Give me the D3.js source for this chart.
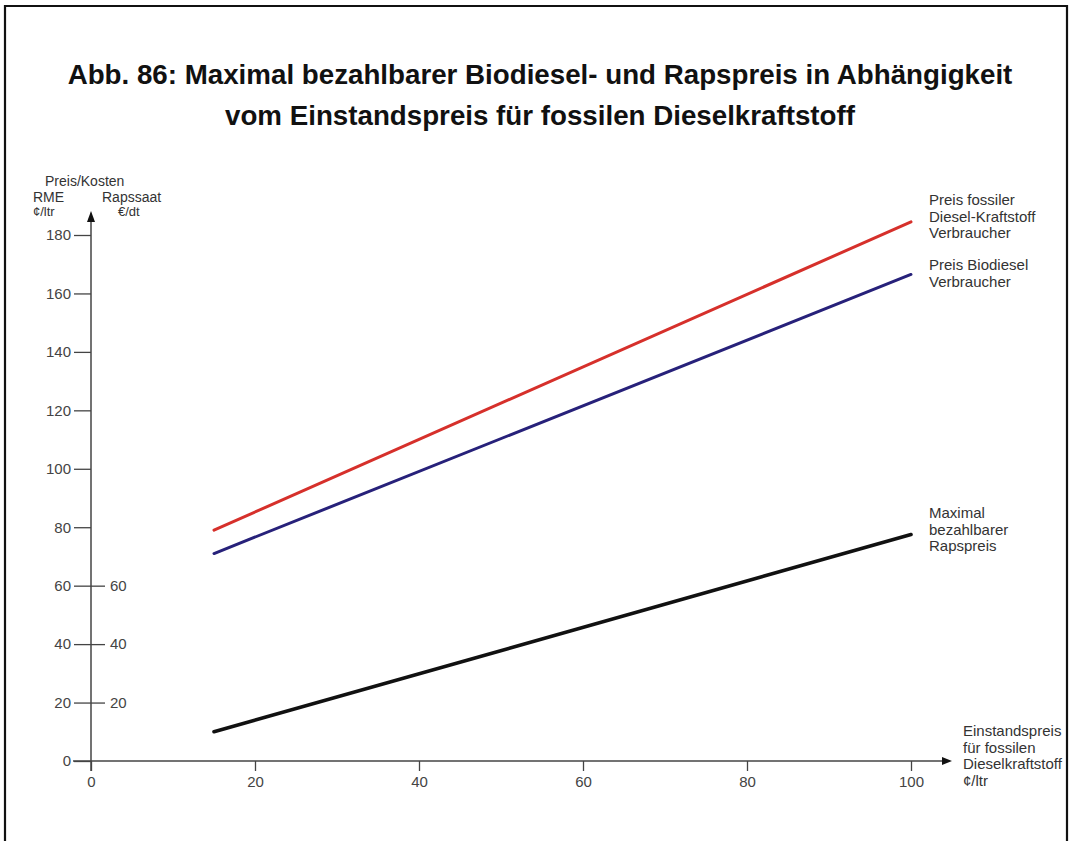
<!DOCTYPE html>
<html><head><meta charset="utf-8">
<script src="https://cdn.jsdelivr.net/npm/d3@7"></script>
<style>
html,body{margin:0;padding:0;background:#fff;}
svg{display:block;font-family:"Liberation Sans",Arial,sans-serif;}
</style></head>
<body>
<svg id="chart" width="1070" height="841"></svg>
<script>
// ---- data ----
const titleLines = ["Abb. 86: Maximal bezahlbarer Biodiesel- und Rapspreis in Abhängigkeit",
                    "vom Einstandspreis für fossilen Dieselkraftstoff"];
const xTicks = [0, 20, 40, 60, 80, 100];
const yTicks = [0, 20, 40, 60, 80, 100, 120, 140, 160, 180];
const rapsTicks = [20, 40, 60];
const dieselPrice = [15, 100];              // Einstandspreis fossiler Diesel (¢/ltr)
const fossilConsumer = [79, 184.5];          // Preis fossiler Diesel-Kraftstoff Verbraucher
const biodieselConsumer = [71, 166.5];       // Preis Biodiesel Verbraucher
const maxRapsPrice = [10, 77.5];             // Maximal bezahlbarer Rapspreis
const seriesLabels = [
  ["Preis fossiler", "Diesel-Kraftstoff", "Verbraucher"],
  ["Preis Biodiesel", "Verbraucher"],
  ["Maximal", "bezahlbarer", "Rapspreis"]
];
const seriesColors = ["#d6302b", "#27217a", "#111111"];
const xAxisLabel = ["Einstandspreis", "für fossilen", "Dieselkraftstoff", "¢/ltr"];

// ---- chart ----
const svg = d3.select("#chart");
const x = d3.scaleLinear().domain([0, 100]).range([91, 911]);
const y = d3.scaleLinear().domain([0, 180]).range([761, 235]);
const grey = "#444";

// frame (no bottom border)
svg.append("path").attr("d", "M5,841 L5,6 L1067,6 L1067,841")
  .attr("fill", "none").attr("stroke", "#111").attr("stroke-width", 2.2);

// title
const tg = svg.append("g");
const t1 = tg.append("text").attr("x", 540).attr("y", 84).attr("text-anchor", "middle")
  .attr("font-weight", "bold").attr("font-size", 24).attr("fill", "#111").text(titleLines[0]);
const w = t1.node().getComputedTextLength();
const fs = 24 * 945 / w;
t1.attr("font-size", fs);
tg.append("text").attr("x", 540).attr("y", 125).attr("text-anchor", "middle")
  .attr("font-weight", "bold").attr("font-size", fs).attr("fill", "#111").text(titleLines[1]);

// x axis
const xAxis = d3.axisBottom(x).tickValues(xTicks).tickSize(10).tickPadding(5);
const gx = svg.append("g").attr("transform", `translate(0,${y(0)})`).call(xAxis);
gx.select(".domain").remove();
gx.selectAll(".tick line").attr("stroke", grey).attr("stroke-width", 1.3);
gx.selectAll(".tick text").attr("font-size", 15).attr("fill", grey)
  .attr("font-family", "Liberation Sans, Arial, sans-serif");
svg.append("line").attr("x1", 73).attr("x2", 944).attr("y1", y(0)).attr("y2", y(0))
  .attr("stroke", grey).attr("stroke-width", 1.5);
svg.append("path").attr("d", `M952,${y(0)} L942,${y(0)-4} L942,${y(0)+4} Z`).attr("fill", "#111");

// y axis
const yAxis = d3.axisLeft(y).tickValues(yTicks).tickSize(17).tickPadding(3);
const gy = svg.append("g").attr("transform", `translate(${x(0)},0)`).call(yAxis);
gy.select(".domain").remove();
gy.selectAll(".tick line").attr("stroke", grey).attr("stroke-width", 1.3);
gy.selectAll(".tick text").attr("font-size", 15).attr("fill", grey)
  .attr("font-family", "Liberation Sans, Arial, sans-serif");
svg.append("line").attr("x1", x(0)).attr("x2", x(0)).attr("y1", y(0) + 10).attr("y2", 220)
  .attr("stroke", grey).attr("stroke-width", 1.5);
svg.append("path").attr("d", `M${x(0)},211 L${x(0)-4},222 L${x(0)+4},222 Z`).attr("fill", "#111");

// secondary (Rapssaat) ticks
const yAxis2 = d3.axisRight(y).tickValues(rapsTicks).tickSize(14).tickPadding(5);
const gy2 = svg.append("g").attr("transform", `translate(${x(0)},0)`).call(yAxis2);
gy2.select(".domain").remove();
gy2.selectAll(".tick line").attr("stroke", grey).attr("stroke-width", 1.3);
gy2.selectAll(".tick text").attr("font-size", 15).attr("fill", grey)
  .attr("font-family", "Liberation Sans, Arial, sans-serif");

// axis titles
const at = svg.append("g").attr("fill", "#333").attr("font-size", 14);
at.append("text").attr("x", 45).attr("y", 186).text("Preis/Kosten");
at.append("text").attr("x", 33).attr("y", 202).text("RME");
at.append("text").attr("x", 33).attr("y", 216).attr("font-size", 13).text("¢/ltr");
at.append("text").attr("x", 102).attr("y", 202).text("Rapssaat");
at.append("text").attr("x", 118).attr("y", 216).attr("font-size", 13).text("€/dt");

// series lines
const series = [fossilConsumer, biodieselConsumer, maxRapsPrice];
const line = d3.line().x(d => x(d[0])).y(d => y(d[1]));
series.forEach((vals, i) => {
  const pts = dieselPrice.map((p, j) => [p, vals[j]]);
  svg.append("path").attr("d", line(pts)).attr("fill", "none")
    .attr("stroke", seriesColors[i]).attr("stroke-width", i === 2 ? 3.6 : 3)
    .attr("stroke-linecap", "round");
});

// series labels
const labelY = [205, 270, 518];
seriesLabels.forEach((lines, i) => {
  const t = svg.append("text").attr("x", 929).attr("y", labelY[i])
    .attr("font-size", 15).attr("fill", "#333");
  lines.forEach((s, k) => t.append("tspan").attr("x", 929).attr("dy", k === 0 ? 0 : 16.5).text(s));
});

// x axis label (clipped at frame)
svg.append("clipPath").attr("id", "clipR").append("rect")
  .attr("x", 0).attr("y", 0).attr("width", 1066).attr("height", 841);
const xl = svg.append("text").attr("x", 963).attr("y", 736).attr("font-size", 15)
  .attr("fill", "#333").attr("clip-path", "url(#clipR)");
xAxisLabel.forEach((s, k) => xl.append("tspan").attr("x", 963).attr("dy", k === 0 ? 0 : 16.5).text(s));
</script>
</body></html>
